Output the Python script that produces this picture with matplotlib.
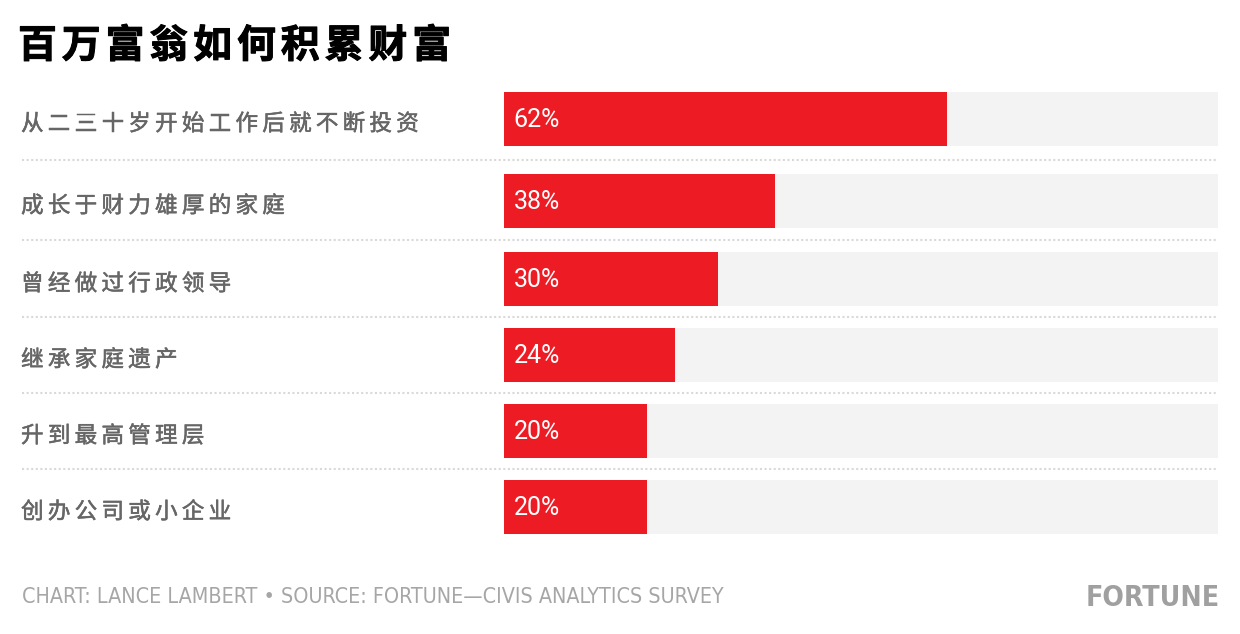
import matplotlib
matplotlib.use("Agg")
import matplotlib.pyplot as plt
import matplotlib.patheffects as pe
from matplotlib import font_manager
from matplotlib.font_manager import FontProperties

# chart data
title = "百万富翁如何积累财富"
categories = [
    "从二三十岁开始工作后就不断投资",
    "成长于财力雄厚的家庭",
    "曾经做过行政领导",
    "继承家庭遗产",
    "升到最高管理层",
    "创办公司或小企业",
]
shares = [62, 38, 30, 24, 20, 20]
footer = "CHART: LANCE LAMBERT \u2022 SOURCE: FORTUNE\u2014CIVIS ANALYTICS SURVEY"
brand = "FORTUNE"

RED = "#ed1c24"
TRACK = "#f3f3f3"
W, H = 1240, 634

plt.rcParams['font.family'] = ['Noto Sans CJK SC', 'DejaVu Sans']


def narrow_font(bold):
    # look for any condensed / narrow face installed, else plain Roboto
    want = 'bold' if bold else 'normal'
    for f in font_manager.fontManager.ttflist:
        cond = f.stretch in ('condensed', 'semi-condensed', 'extra-condensed') \
            or 'Narrow' in f.name or 'Condensed' in f.name
        w = f.weight if isinstance(f.weight, int) else 400
        isbold = w >= 600 or f.weight == 'bold'
        if cond and isbold == bold and f.style == 'normal':
            return FontProperties(fname=f.fname)
    return FontProperties(family='Roboto', weight=want)


fig = plt.figure(figsize=(W / 100, H / 100), dpi=100)

# full-figure axes in pixel units for text and separators
pix = fig.add_axes([0, 0, 1, 1])
pix.set_xlim(0, W)
pix.set_ylim(H, 0)
pix.axis('off')

# bar axes: x in percent, y in pixels
ax = fig.add_axes([504 / W, 0, 714 / W, 1])
ax.set_xlim(0, 100)
ax.set_ylim(H, 0)
ax.axis('off')

row_y = [119, 201, 279, 355, 431, 507]
bar_h = 54

ax.barh(row_y, [100] * len(shares), height=bar_h, color=TRACK, linewidth=0)
ax.barh(row_y, shares, height=bar_h, color=RED, linewidth=0)
for y, v in zip(row_y, shares):
    ax.annotate(f"{v}%", xy=(0, y + 1), xytext=(7, 0), textcoords='offset points',
                ha='left', va='center', color='white', fontsize=18,
                family='Roboto')

# dotted separators between rows
for a, b in zip(row_y[:-1], row_y[1:]):
    yy = (a + b) / 2
    pix.plot([22, 1218], [yy, yy], color='#d9d9d9', lw=1.5,
             linestyle=(0, (1, 1.2)), solid_capstyle='butt')


def spaced(x0, y, text, pitch, **kw):
    for i, ch in enumerate(text):
        pix.text(x0 + i * pitch, y, ch, ha='left', va='center', **kw)


thick = [pe.Stroke(linewidth=0.7, foreground='#000000'), pe.Normal()]
spaced(18, 46, title, 43.8, fontsize=28, fontweight='heavy', color='#000000',
       path_effects=thick)

medium = [pe.Stroke(linewidth=0.35, foreground='#666666'), pe.Normal()]
for y, lab in zip(row_y, categories):
    spaced(21, y + 5, lab, 26.8, fontsize=16.3, color='#666666',
           path_effects=medium)

fig.canvas.draw()
r = fig.canvas.get_renderer()


def fit(t, width):
    bb = t.get_window_extent(r)
    t.set_fontsize(t.get_fontsize() * width / bb.width)

ft = pix.text(22, 603, footer, ha='left', va='baseline', color='#a6a6a6',
              fontsize=16, fontproperties=narrow_font(False))
fit(ft, 704)
lg = pix.text(1220, 606, brand, ha='right', va='baseline', color='#a0a0a0',
              fontsize=28, fontproperties=narrow_font(True))
fit(lg, 134)

fig.savefig("out.png", dpi=100)
